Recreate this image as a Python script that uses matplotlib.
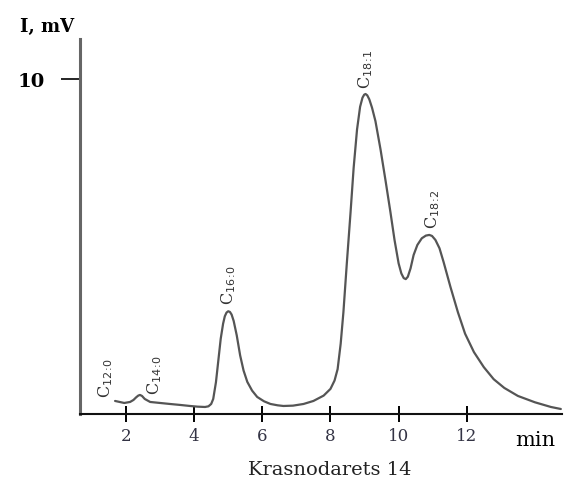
import numpy as np
import matplotlib
matplotlib.use("Agg")
from matplotlib import pyplot as plt

# retention time (min) and detector signal (mV)
time_min = [1.68, 1.95, 2.12, 2.22, 2.3, 2.36, 2.41, 2.47, 2.55, 2.71, 3.0, 3.29,
            3.6, 3.88, 4.1, 4.32, 4.42, 4.5, 4.56, 4.64, 4.71, 4.78, 4.85, 4.9,
            4.95, 5.0, 5.05, 5.1, 5.16, 5.25, 5.35, 5.45, 5.56, 5.7, 5.85, 6.05,
            6.24, 6.45, 6.62, 6.9, 7.21, 7.5, 7.8, 8.0, 8.12, 8.21, 8.3, 8.38,
            8.48, 8.59, 8.68, 8.78, 8.87, 8.94, 8.99, 9.03, 9.08, 9.14, 9.22,
            9.32, 9.47, 9.62, 9.76, 9.88, 10.0, 10.08, 10.15, 10.21, 10.27,
            10.35, 10.44, 10.55, 10.68, 10.8, 10.9, 10.98, 11.08, 11.2, 11.32,
            11.52, 11.74, 11.95, 12.21, 12.5, 12.79, 13.1, 13.5, 14.0, 14.47,
            14.76]
signal_mv = [0.39, 0.33, 0.36, 0.42, 0.5, 0.55, 0.57, 0.54, 0.45, 0.36, 0.33, 0.30,
             0.27, 0.24, 0.22, 0.21, 0.23, 0.3, 0.45, 0.95, 1.6, 2.25, 2.7, 2.92,
             3.03, 3.07, 3.05, 2.97, 2.78, 2.35, 1.75, 1.3, 0.96, 0.7, 0.51, 0.38,
             0.30, 0.26, 0.24, 0.25, 0.30, 0.39, 0.55, 0.75, 1.0, 1.34, 2.1, 3.04,
             4.5, 6.03, 7.35, 8.5, 9.18, 9.45, 9.54, 9.56, 9.52, 9.4, 9.15,
             8.75, 7.9, 6.95, 6.03, 5.2, 4.5, 4.2, 4.06, 4.03, 4.1,
             4.35, 4.75, 5.05, 5.25, 5.33, 5.35, 5.32, 5.2, 4.95, 4.54,
             3.8, 3.04, 2.4, 1.85, 1.4, 1.04, 0.78, 0.54, 0.35, 0.21,
             0.15]

peak_names = [r"C$_{12\!:\!0}$", r"C$_{14\!:\!0}$", r"C$_{16\!:\!0}$",
              r"C$_{18\!:\!1}$", r"C$_{18\!:\!2}$"]
peak_time = [1.4, 2.85, 5.0, 9.03, 11.0]
peak_label_y = [0.5, 0.6, 3.3, 9.75, 5.55]

x_ticks = [2, 4, 6, 8, 10, 12]
y_ticks = [10]

plt.rcParams["font.family"] = ["DejaVu Serif"]

fig = plt.figure(figsize=(5.64, 4.85), dpi=100)
ax = fig.add_axes([0.1418, 0.1443, 0.855, 0.773])

ax.plot(time_min, signal_mv, color="#555555", lw=1.6,
        solid_joinstyle="round", solid_capstyle="round")

for name, t, y in zip(peak_names, peak_time, peak_label_y):
    ax.text(t, y, name, rotation=90, ha="center", va="bottom", fontsize=11.5, color="#333333")

ax.set_xlim(0.65, 14.8)
ax.set_ylim(0, 11.2)
ax.set_xticks(x_ticks)
ax.set_yticks(y_ticks)
ax.tick_params(axis="x", direction="inout", length=11, width=1.4, labelsize=12,
               labelcolor="#333344", pad=4)
ax.tick_params(axis="y", direction="out", length=14, width=1.2, labelsize=14, pad=11)
for lbl in ax.get_yticklabels():
    lbl.set_fontweight("bold")

for side in ["top", "right"]:
    ax.spines[side].set_visible(False)
ax.spines["left"].set_color("#666666")
ax.spines["left"].set_linewidth(2.2)
ax.spines["bottom"].set_color("#111111")
ax.spines["bottom"].set_linewidth(1.5)

fig.text(0.035, 0.945, "I, mV", fontsize=13, fontweight="bold", ha="left", va="center")
fig.text(0.985, 0.092, "min", fontsize=15, ha="right", va="center")
fig.text(0.585, 0.03, "Krasnodarets 14", fontsize=14, ha="center", va="center", color="#222222")

fig.savefig("out.png", dpi=100)
